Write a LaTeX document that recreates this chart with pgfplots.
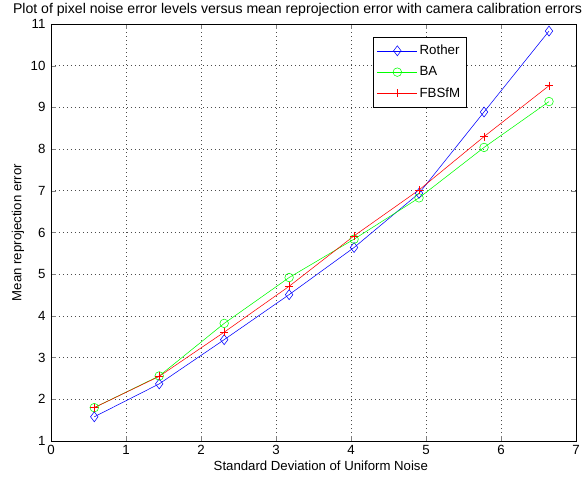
\documentclass[border=0pt]{standalone}
\usepackage{pgfplots}
\pgfplotsset{compat=1.18}
\usepackage{fontspec}
\setmainfont{Liberation Sans}
\begin{document}
\fontsize{13}{15}\selectfont
\begin{tikzpicture}
\begin{axis}[
  scale only axis,
  width=525pt, height=417pt,
  xmin=0, xmax=7, ymin=1, ymax=11,
  xtick={0,...,7}, ytick={1,...,11},
  tick align=inside,
  tick pos=both,
  major tick length=5pt,
  grid=major,
  grid style={black!70, line width=0.6pt, dash pattern=on 0.6pt off 3.4pt},
  axis line style={line width=0.7pt},
  /pgf/number format/assume math mode=true,
  tick label style={font=\fontsize{13.3}{15}\selectfont},
  xticklabel style={yshift=0pt},
  yticklabel style={xshift=-1pt},
  xlabel={Standard Deviation of Uniform Noise},
  ylabel={Mean reprojection error},
  xlabel style={font=\fontsize{13.2}{15}\selectfont, at={(axis description cs:0.514,-0.06)}, anchor=center},
  ylabel style={font=\fontsize{13.2}{15}\selectfont, at={(axis description cs:-0.0629,0.5)}, anchor=center},
  every axis title shift=0pt,
  title={Plot of pixel noise error levels versus mean reprojection error with camera calibration errors},
  title style={font=\fontsize{14.1}{16}\selectfont, at={(axis description cs:0.4695,1.0336)}, anchor=center},
  legend style={at={(0.6128,0.9696)}, anchor=north west, draw=black, line width=0.7pt,
    font=\fontsize{13.3}{15}\selectfont, row sep=6pt, inner xsep=4pt, inner ysep=6pt,
    nodes={inner sep=2pt}},
  legend cell align=left,
  legend image code/.code={\draw[mark repeat=2, mark phase=2] plot coordinates {(0pt,0pt) (20pt,0pt) (40pt,0pt)};},
  every axis plot/.append style={line width=0.55pt},
]
\addplot[blue, mark=diamond, mark size=5pt, mark options={solid}] coordinates {
(0.577,1.58) (1.443,2.37) (2.309,3.43) (3.175,4.51) (4.041,5.64) (4.907,6.94) (5.774,8.89) (6.640,10.83)};
\addlegendentry{Rother}
\addplot[green, mark=o, mark size=4.3pt] coordinates {
(0.577,1.80) (1.443,2.56) (2.309,3.82) (3.175,4.92) (4.041,5.84) (4.907,6.83) (5.774,8.04) (6.640,9.14)};
\addlegendentry{BA}
\addplot[red, mark=+, mark size=4pt] coordinates {
(0.577,1.80) (1.443,2.55) (2.309,3.61) (3.175,4.71) (4.041,5.92) (4.907,7.02) (5.774,8.30) (6.640,9.52)};
\addlegendentry{FBSfM}
\end{axis}
\pgfresetboundingbox
\path (-51pt,-39pt) rectangle (536pt,441pt);
\end{tikzpicture}
\end{document}
